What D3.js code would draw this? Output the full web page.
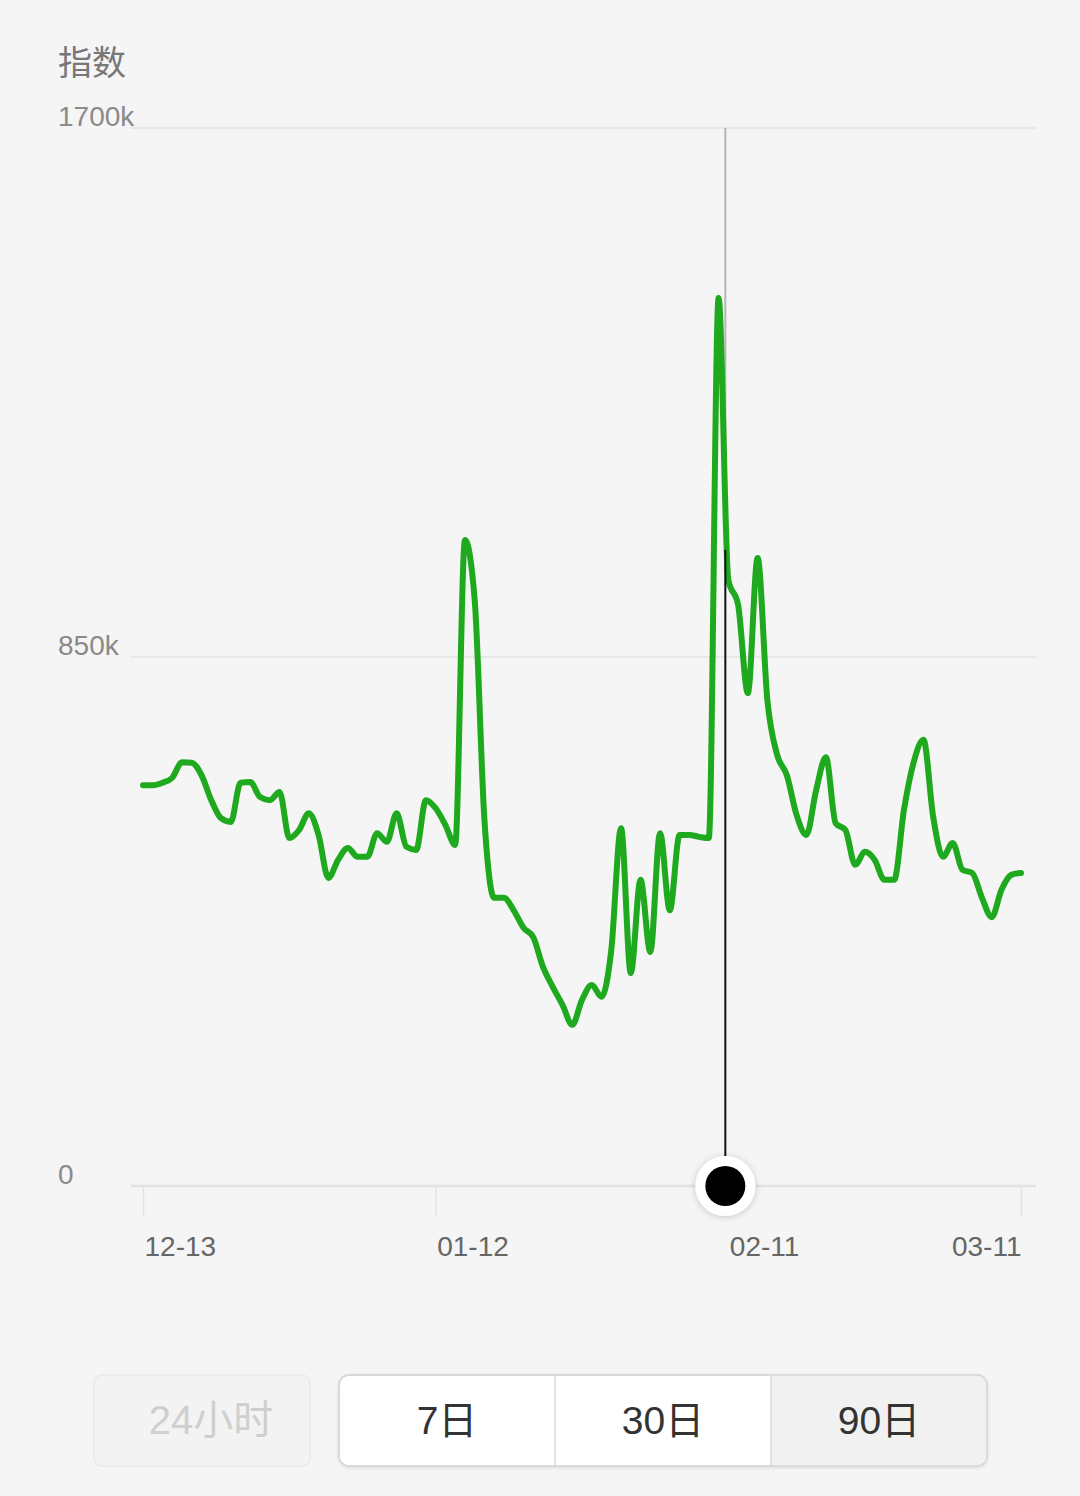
<!DOCTYPE html>
<html>
<head>
<meta charset="utf-8">
<script src="https://cdn.jsdelivr.net/npm/d3@7"></script>
<style>
  html, body { margin: 0; padding: 0; background: #f5f5f5; }
  svg { display: block; font-family: "Liberation Sans", Arial, "Noto Sans CJK SC", sans-serif; }
</style>
</head>
<body>
<svg id="chart" width="1080" height="1496"></svg>
<script>
// ---- data ----
const title = "指数";
const dayIndex = d3.range(0, 91);
const values = [
  644, 644, 648, 656, 681, 680, 660, 620, 591, 585,
  648, 649, 625, 620, 633, 559, 572, 599, 564, 495,
  524, 543, 529, 529, 567, 553, 599, 545, 540, 620,
  607, 580, 548, 1038, 942, 588, 463, 463, 443, 415,
  400, 352, 320, 291, 259, 299, 323, 304, 379, 575,
  342, 492, 376, 567, 443, 564, 564, 561, 559, 1427,
  974, 934, 792, 1009, 781, 693, 660, 596, 564, 636,
  689, 583, 572, 516, 537, 524, 492, 492, 604, 681,
  717, 593, 529, 551, 508, 503, 463, 432, 476, 500,
  503
];
const xTickIndex = [0, 30, 60, 90];
const xTickLabels = ["12-13", "01-12", "02-11", "03-11"];
const yTickValues = [0, 850, 1700];
const yTickLabels = ["0", "850k", "1700k"];
const selectedIndex = 60;
const rangeButtons = ["7日", "30日", "90日"];
const disabledButton = "24小时";
const activeButton = "90日";

// ---- layout ----
const svg = d3.select("#chart");
const x = d3.scaleLinear().domain([0, 90]).range([143, 1021]);
const y = d3.scaleLinear().domain([0, 1700]).range([1186, 128]);
const gridLeft = 131, gridRight = 1036;

const defs = svg.append("defs");
const sh = defs.append("filter").attr("id", "shadow").attr("x", "-50%").attr("y", "-50%").attr("width", "200%").attr("height", "200%");
sh.append("feDropShadow").attr("dx", 0).attr("dy", 1).attr("stdDeviation", 3.5).attr("flood-color", "#000").attr("flood-opacity", 0.2);
const sh2 = defs.append("filter").attr("id", "btnshadow").attr("x", "-10%").attr("y", "-20%").attr("width", "120%").attr("height", "140%");
sh2.append("feDropShadow").attr("dx", 0).attr("dy", 1).attr("stdDeviation", 1.5).attr("flood-color", "#000").attr("flood-opacity", 0.12);

svg.append("rect").attr("width", 1080).attr("height", 1496).attr("fill", "#f5f5f5");

// title
svg.append("text").attr("x", 58).attr("y", 75)
  .attr("font-size", 34).attr("fill", "#777")
  .attr("font-family", "'Noto Sans CJK SC', sans-serif")
  .text(title);

// gridlines + y labels
const gy = svg.append("g");
gy.selectAll("line").data(yTickValues).join("line")
  .attr("x1", gridLeft).attr("x2", gridRight)
  .attr("y1", d => y(d)).attr("y2", d => y(d))
  .attr("stroke", "#e2e2e2").attr("stroke-width", d => d === 0 ? 2.5 : 1.5);
gy.selectAll("text").data(yTickValues).join("text")
  .attr("x", 58).attr("y", d => y(d) - 2)
  .attr("font-size", 28).attr("fill", "#8a8a8a")
  .text((d, i) => yTickLabels[i]);

// x axis ticks + labels
const xAxis = d3.axisBottom(x).tickValues(xTickIndex).tickSize(30).tickSizeOuter(0)
  .tickFormat((d, i) => xTickLabels[i]);
const gx = svg.append("g").attr("transform", `translate(0,${y(0)})`).call(xAxis);
gx.select(".domain").remove();
gx.selectAll(".tick line").attr("stroke", "#e2e2e2").attr("stroke-width", 1.5);
gx.selectAll(".tick text")
  .attr("y", 70).attr("dy", 0)
  .attr("font-size", 28).attr("fill", "#666")
  .attr("text-anchor", (d, i) => i === xTickIndex.length - 1 ? "end" : "start")
  .attr("dx", (d, i) => i === xTickIndex.length - 1 ? 0 : 1);

// selected vertical line
const sx = x(selectedIndex) - 3, syv = y(values[selectedIndex]) - 30;
svg.append("line").attr("x1", sx).attr("x2", sx).attr("y1", y(1700)).attr("y2", syv)
  .attr("stroke", "#b5b5b5").attr("stroke-width", 2);

// line
const line = d3.line().x((d, i) => x(dayIndex[i])).y(d => y(d)).curve(d3.curveMonotoneX);
svg.append("path").datum(values).attr("d", line)
  .attr("fill", "none").attr("stroke", "#1fa91f").attr("stroke-width", 6)
  .attr("stroke-linejoin", "round").attr("stroke-linecap", "round");

svg.append("line").attr("x1", sx).attr("x2", sx).attr("y1", syv).attr("y2", y(0))
  .attr("stroke", "#111").attr("stroke-width", 2);

// marker
svg.append("circle").attr("cx", sx).attr("cy", y(0)).attr("r", 30).attr("fill", "#fff").attr("filter", "url(#shadow)");
svg.append("circle").attr("cx", sx).attr("cy", y(0)).attr("r", 20).attr("fill", "#000");

// buttons
const cjk = "'Liberation Sans', Arial, 'Noto Sans CJK SC', sans-serif";
svg.append("rect").attr("x", 94).attr("y", 1375).attr("width", 216).attr("height", 91).attr("rx", 8)
  .attr("fill", "#f3f3f3").attr("stroke", "#e9e9e9").attr("stroke-width", 1.5);
svg.append("text").attr("x", 211).attr("y", 1420).attr("dy", "0.35em").attr("text-anchor", "middle")
  .attr("font-size", 40).attr("fill", "#cfcfcf").attr("font-family", cjk).text(disabledButton);

const bx = d3.scaleBand().domain(rangeButtons).range([339, 987]);
const gb = svg.append("g");
gb.append("rect").attr("x", 339).attr("y", 1375).attr("width", 648).attr("height", 91).attr("rx", 10)
  .attr("fill", "#fff").attr("stroke", "#d8d8d8").attr("stroke-width", 1.5).attr("filter", "url(#btnshadow)");
const clip = defs.append("clipPath").attr("id", "grpclip");
clip.append("rect").attr("x", 339).attr("y", 1375).attr("width", 648).attr("height", 91).attr("rx", 10);
gb.append("rect").attr("x", bx(activeButton)).attr("y", 1375).attr("width", bx.bandwidth()).attr("height", 91)
  .attr("fill", "#f1f1f1").attr("clip-path", "url(#grpclip)");
gb.append("rect").attr("x", 339).attr("y", 1375).attr("width", 648).attr("height", 91).attr("rx", 10)
  .attr("fill", "none").attr("stroke", "#d8d8d8").attr("stroke-width", 1.5);
gb.selectAll("line.div").data(rangeButtons.slice(1)).join("line").attr("class", "div")
  .attr("x1", d => bx(d)).attr("x2", d => bx(d)).attr("y1", 1375).attr("y2", 1466)
  .attr("stroke", "#d8d8d8").attr("stroke-width", 1.5);
gb.selectAll("text").data(rangeButtons).join("text")
  .attr("x", d => bx(d) + bx.bandwidth() / 2).attr("y", 1420).attr("dy", "0.35em")
  .attr("text-anchor", "middle").attr("font-size", 39).attr("fill", "#333").attr("font-family", cjk)
  .text(d => d);
</script>
</body>
</html>
